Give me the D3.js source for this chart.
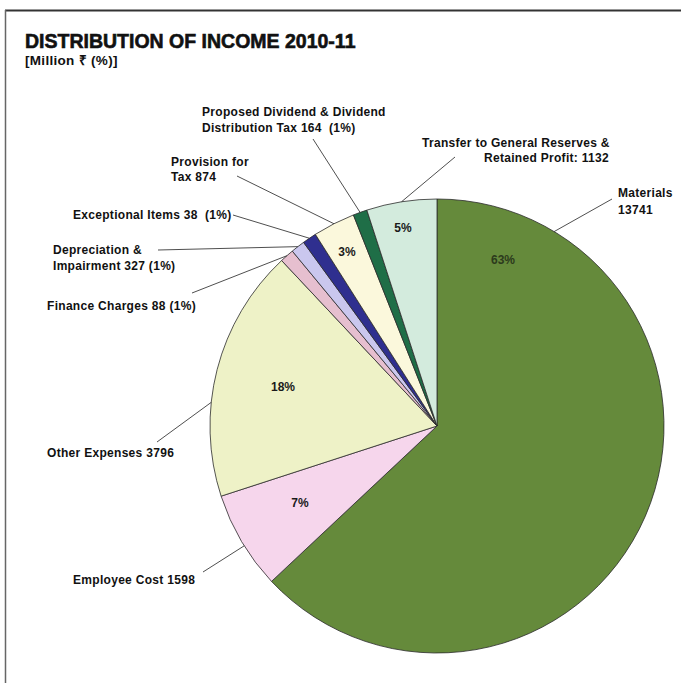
<!DOCTYPE html>
<html>
<head>
<meta charset="utf-8">
<script src="https://cdn.jsdelivr.net/npm/d3@7"></script>
<style>
  html, body { margin: 0; padding: 0; background: #fff; }
  svg { display: block; }
  text { font-family: "Liberation Sans", Arial, Helvetica, sans-serif; white-space: pre; }
</style>
</head>
<body>
<svg id="chart" width="681" height="683"></svg>
<script>
// Distribution of income 2010-11, million rupees
const categories = [
  "Materials",
  "Employee Cost",
  "Other Expenses",
  "Finance Charges",
  "Depreciation & Impairment",
  "Exceptional Items",
  "Provision for Tax",
  "Proposed Dividend & Dividend Distribution Tax",
  "Transfer to General Reserves & Retained Profit"
];
const amounts = [13741, 1598, 3796, 88, 327, 38, 874, 164, 1132];
const shares  = [63, 7, 18, 1, 1, 1, 3, 1, 5];   // per cent of income
const colors  = ["#658a3b", "#f6d6ec", "#eef2c7", "#e6bfcf", "#cac7ee",
                 "#2f2f8f", "#fbf8dc", "#1f6e47", "#d3ebdd"];

// Outside callout text, one entry per slice, split into lines
const calloutLines = [
  ["Materials", `${amounts[0]}`],
  [`Employee Cost ${amounts[1]}`],
  [`Other Expenses ${amounts[2]}`],
  [`Finance Charges ${amounts[3]} (${shares[3]}%)`],
  ["Depreciation &", `Impairment ${amounts[4]} (${shares[4]}%)`],
  [`Exceptional Items ${amounts[5]}  (${shares[5]}%)`],
  ["Provision for", `Tax ${amounts[6]}`],
  ["Proposed Dividend & Dividend", `Distribution Tax ${amounts[7]}  (${shares[7]}%)`],
  ["Transfer to General Reserves &", `Retained Profit: ${amounts[8]}`]
];

// Placement of callouts: text lines, leader start, and where along the slice the leader meets the rim
const calloutLayout = [
  { lines: [[618, 197, "start"], [618, 214, "start"]], from: [612, 199], frac: 0.137 },
  { lines: [[73, 584, "start"]], from: [203, 572], frac: 0.45 },
  { lines: [[47, 457, "start"]], from: [157, 442], frac: 0.37 },
  { lines: [[47, 310, "start"]], from: [192, 293], frac: 0.5 },
  { lines: [[53, 254, "start"], [53, 270, "start"]], from: [158, 250], frac: 0.5 },
  { lines: [[73, 219, "start"]], from: [233, 215], frac: 0.5 },
  { lines: [[171, 166, "start"], [171, 181, "start"]], from: [237, 176], frac: 0.5 },
  { lines: [[202, 116, "start"], [202, 132, "start"]], from: [313, 139], frac: 0.5 },
  { lines: [[422, 147, "start"], [609, 162, "end"]], from: [455, 157], frac: 0.5 }
];

// In-slice percentage labels (only the larger slices carry one)
const pctLabelPos = [[503, 264], [300, 507], [283, 391], null, null, null, [347, 256], null, [403, 232]];

const svg = d3.select("#chart");

// frame
svg.append("line").attr("x1", 5).attr("y1", 10.5).attr("x2", 681).attr("y2", 10.5)
  .attr("stroke", "#333").attr("stroke-width", 2);
svg.append("line").attr("x1", 5.5).attr("y1", 10).attr("x2", 5.5).attr("y2", 683)
  .attr("stroke", "#666").attr("stroke-width", 1.5);

// titles
svg.append("text").attr("x", 25).attr("y", 48)
  .attr("font-size", 19.5).attr("font-weight", "bold")
  .attr("stroke", "#111").attr("stroke-width", 0.6)
  .attr("fill", "#111").text("DISTRIBUTION OF INCOME 2010-11");
svg.append("text").attr("x", 25).attr("y", 65)
  .attr("font-size", 13.5).attr("font-weight", "bold")
  .attr("letter-spacing", 0.3)
  .attr("fill", "#111").text("[Million \u20B9 (%)]");

const cx = 437, cy = 426, r = 227;
const g = svg.append("g").attr("transform", `translate(${cx},${cy})`);

const data = categories.map((c, i) => ({ name: c, amount: amounts[i], share: shares[i], color: colors[i], i }));
const pie = d3.pie().sort(null).value(d => d.share).startAngle(0).endAngle(2 * Math.PI);
const arcs = pie(data);
const arc = d3.arc().innerRadius(0).outerRadius(r);
const rim = d3.arc().innerRadius(r).outerRadius(r);

g.selectAll("path.slice").data(arcs).join("path")
  .attr("class", "slice")
  .attr("d", arc)
  .attr("fill", d => d.data.color)
  .attr("stroke", "#2b2b2b")
  .attr("stroke-width", 0.8)
  .attr("stroke-linejoin", "round");

// leader lines and callout text
arcs.forEach((a, i) => {
  const L = calloutLayout[i];
  const ang = a.startAngle + (a.endAngle - a.startAngle) * L.frac;
  const [px, py] = rim.centroid({ startAngle: ang, endAngle: ang });
  svg.append("line")
    .attr("x1", L.from[0]).attr("y1", L.from[1])
    .attr("x2", cx + px).attr("y2", cy + py)
    .attr("stroke", "#222").attr("stroke-width", 0.8);
  calloutLines[i].forEach((t, k) => {
    const [x, y, anchor] = L.lines[k];
    svg.append("text").attr("x", x).attr("y", y)
      .attr("text-anchor", anchor)
      .attr("font-size", 12).attr("font-weight", "bold")
      .attr("letter-spacing", 0.3)
      .attr("fill", "#111").text(t);
  });
});

// percentage labels inside slices
arcs.forEach((a, i) => {
  const p = pctLabelPos[i];
  if (!p) return;
  svg.append("text").attr("x", p[0]).attr("y", p[1])
    .attr("text-anchor", "middle")
    .attr("font-size", 12).attr("font-weight", "bold")
    .attr("fill", i === 0 ? "#2c3a1c" : "#1a1a1a")
    .text(`${a.data.share}%`);
});
</script>
</body>
</html>
